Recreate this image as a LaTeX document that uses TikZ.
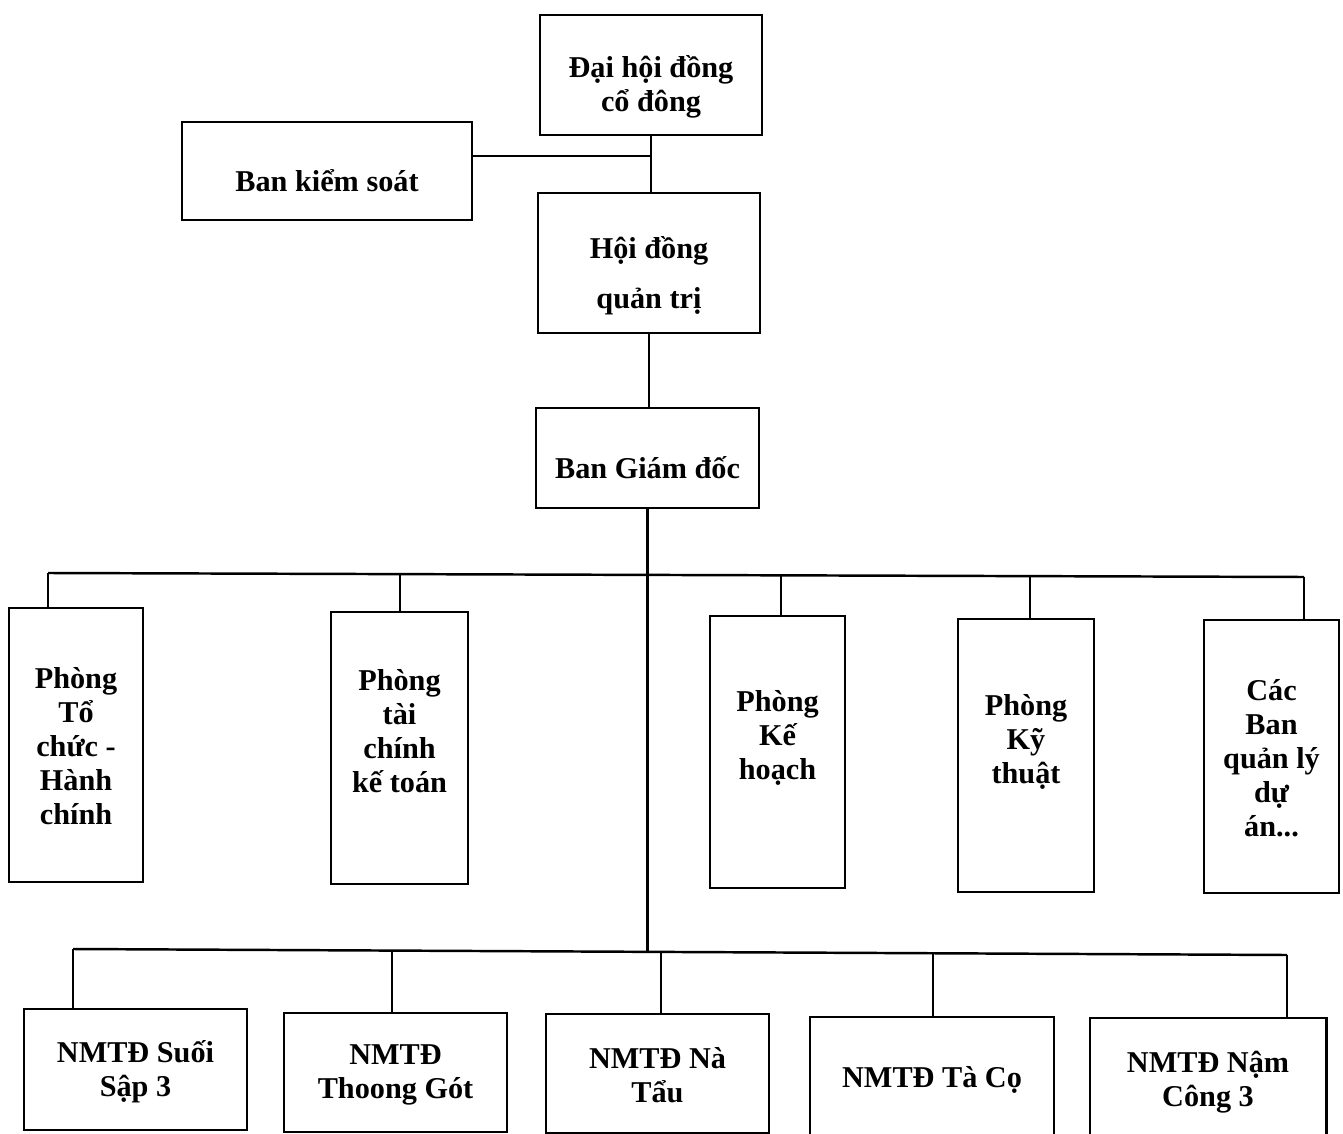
\documentclass[tikz,border=0pt]{standalone}
\usepackage{fontspec}
\setmainfont{Liberation Serif}

\tikzset{
  box/.style={draw, line width=0.8pt, inner sep=0pt},
  txt/.style={inner sep=0pt, align=center,
    font=\bfseries\fontsize{8.6}{9.7}\selectfont},
  link/.style={line width=0.7pt}
}

\begin{document}
\begin{tikzpicture}[x=0.01cm, y=-0.01cm]
    \useasboundingbox (0,0) rectangle (1343,1134);
    \clip (0,0) rectangle (1343,1134);

    % top of the company
    \node[box, minimum width=2.22cm, minimum height=1.2cm] (dhdc) at (651,75) {};
    \node[box, minimum width=2.9cm, minimum height=0.98cm] (bks) at (327,171) {};
    \node[box, minimum width=2.22cm, minimum height=1.4cm] (hdqt) at (649,263) {};
    \node[box, minimum width=2.23cm, minimum height=1.0cm] (bgd) at (647.5,458) {};
    \node[txt] (dhdc-t) at (651,87) {Đại hội đồng\\cổ đông};
    \node[txt] (bks-t) at (327,181) {Ban kiểm soát};
    \node[txt] (hdqt-t) at (649,276) {Hội đồng\\[4.5pt]quản trị};
    \node[txt] (bgd-t) at (647.5,468) {Ban Giám đốc};

    \coordinate (j1) at (651,156);
    \draw[link] (dhdc.south) -- (dhdc.south |- hdqt.north);
    \draw[link] (bks.east |- j1) -- (j1);
    \draw[link] (hdqt.south) -- (hdqt.south |- bgd.north);

    % departments
    \node[box, minimum width=1.34cm, minimum height=2.74cm] (ptc) at (76,745) {};
    \node[box, minimum width=1.37cm, minimum height=2.72cm] (ptckt) at (399.5,748) {};
    \node[box, minimum width=1.35cm, minimum height=2.72cm] (pkh) at (777.5,752) {};
    \node[box, minimum width=1.36cm, minimum height=2.73cm] (pkt) at (1026,755.5) {};
    \node[box, minimum width=1.35cm, minimum height=2.73cm] (bql) at (1271.5,756.5) {};
    \node[txt] (ptc-t) at (76,746) {Phòng\\Tổ\\chức -\\Hành\\chính};
    \node[txt] (ptckt-t) at (399.5,731) {Phòng\\tài\\chính\\kế toán};
    \node[txt] (pkh-t) at (777.5,738) {Phòng\\Kế\\hoạch};
    \node[txt] (pkt-t) at (1026,742) {Phòng\\Kỹ\\thuật};
    \node[txt] (bql-t) at (1271.5,758) {Các\\Ban\\quản lý\\dự\\án...};

    \coordinate (u1) at (48,573);
    \coordinate (u2) at (400,574.1);
    \coordinate (u3) at (781,575.3);
    \coordinate (u4) at (1030,576.1);
    \coordinate (u5) at (1304,577);
    \draw[link] (u1) -- (u5);
    \draw[link] (u1) -- (u1 |- ptc.north);
    \draw[link] (u2) -- (u2 |- ptckt.north);
    \draw[link] (u3) -- (u3 |- pkh.north);
    \draw[link] (u4) -- (u4 |- pkt.north);
    \draw[link] (u5) -- (u5 |- bql.north);

    % power plants
    \node[box, minimum width=2.23cm, minimum height=1.21cm] (nm1) at (135.5,1069.5) {};
    \node[box, minimum width=2.23cm, minimum height=1.19cm] (nm2) at (395.5,1072.5) {};
    \node[box, minimum width=2.23cm, minimum height=1.19cm] (nm3) at (657.5,1073.5) {};
    \node[box, minimum width=2.44cm, minimum height=1.23cm] (nm4) at (932,1078.5) {};
    \node[box, minimum width=2.36cm, minimum height=1.24cm] (nm5) at (1208,1080) {};
    \node[txt] (nm1-t) at (135.5,1072) {NMTĐ Suối\\Sập 3};
    \node[txt] (nm2-t) at (395.5,1075) {NMTĐ\\Thoong Gót};
    \node[txt] (nm3-t) at (657.5,1075) {NMTĐ Nà\\Tẩu};
    \node[txt] (nm4-t) at (932,1080) {NMTĐ Tà Cọ};
    \node[txt] (nm5-t) at (1208,1082) {NMTĐ Nậm\\Công 3};

    \coordinate (l1) at (73,949);
    \coordinate (l2) at (392,950.6);
    \coordinate (l3) at (661,951.9);
    \coordinate (l4) at (933,953.3);
    \coordinate (l5) at (1287,955);
    \draw[link] (bgd.south) -- (bgd.south |- l3);
    \draw[link] (l1) -- (l5);
    \draw[link] (l1) -- (l1 |- nm1.north);
    \draw[link] (l2) -- (l2 |- nm2.north);
    \draw[link] (l3) -- (l3 |- nm3.north);
    \draw[link] (l4) -- (l4 |- nm4.north);
    \draw[link] (l5) -- (l5 |- nm5.north);
\end{tikzpicture}
\end{document}
